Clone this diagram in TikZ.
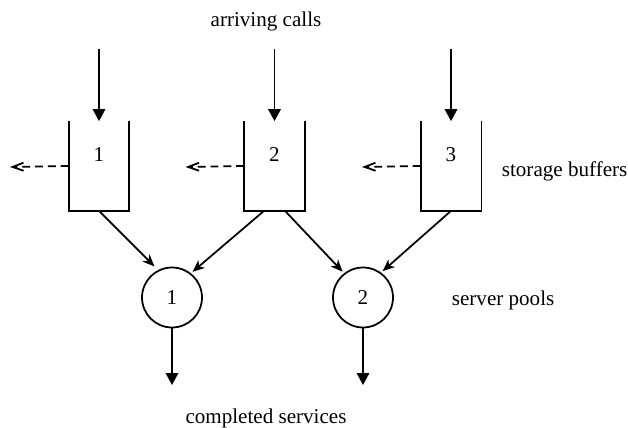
\documentclass[tikz,border=0pt]{standalone}
\usepackage{fontspec}
\setmainfont{Liberation Serif}
\usetikzlibrary{arrows.meta}

\begin{document}
\begin{tikzpicture}[x=0.02cm,y=-0.02cm,line width=1pt,font=\fontsize{12}{14}\selectfont,
    buffer/.style={minimum width=1.18cm,minimum height=1.76cm,inner sep=0pt},
    pool/.style={draw,circle,minimum size=1.2cm,inner sep=0pt},
    caption/.style={inner sep=0pt},
    feed/.style={-{Triangle[length=0.24cm,width=0.25cm]}},
    route/.style={-{Stealth[length=0.24cm,width=0.2cm,inset=0.07cm]}},
    lost/.style={-{Straight Barb[length=0.22cm,width=0.16cm]},dash pattern=on 4.5pt off 2.8pt}]
    \useasboundingbox (0,0) rectangle (628,428);
    \foreach \i/\x in {1/99,2/274.5,3/451}{
      \node[buffer] (b\i) at (\x,166) {};
      \node (n\i) at (\x,155) {\i};
      \draw (b\i.north west)--(b\i.south west)--(b\i.south east)--(b\i.north east);
      \coordinate (in\i) at (\x,49);
      \draw[feed] (in\i)--(b\i.north);
      \coordinate (out\i) at (\x-89,167);
      \draw[lost] (b\i.west)--(out\i);
    }
    \node[pool] (s1) at (172,297.5) {1};
    \node[pool] (s2) at (363,297.5) {2};
    \draw[route,shorten >=0.1cm] (b1.south)--(s1.117);
    \draw[route,shorten >=0.04cm] ([xshift=-0.21cm]b2.south)--(s1.52);
    \draw[route,shorten >=0.04cm] ([xshift=0.21cm]b2.south)--(s2.128);
    \draw[route,shorten >=0.04cm] (b3.south)--(s2.54);
    \coordinate (done1) at (172,385);
    \coordinate (done2) at (363,385);
    \draw[feed] (s1.south)--(done1);
    \draw[feed] (s2.south)--(done2);
    \node[caption,anchor=base] (arriving) at (266,27) {arriving calls};
    \node[caption,anchor=base west] (storage) at (501,177) {storage buffers};
    \node[caption,anchor=base west] (servers) at (451,306) {server pools};
    \node[caption,anchor=base] (completed) at (266,423) {completed services};
  \end{tikzpicture}
\end{document}
